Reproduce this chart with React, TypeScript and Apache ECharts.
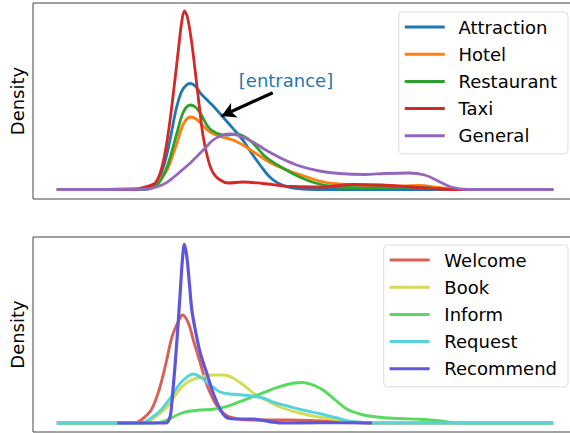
import React, { useEffect, useRef } from "react";
import * as echarts from "echarts";

// ---------- Top panel (domain) ----------
const attractionX = [0, 17.6, 18.6, 20.0, 21.6, 22.8, 24.0, 25.1, 26.1, 26.9, 27.9, 28.9, 30.1, 31.5, 33.1, 34.7, 36.3, 37.9, 39.5, 41.1, 42.7, 44.5, 46.9, 49.5, 55.5, 100];
const attractionY = [0, 0, 1, 5.5, 24.5, 49.5, 79.5, 97.5, 104.5, 106, 103.5, 96.5, 90.5, 83.5, 74.5, 65.5, 56.5, 46.5, 34.5, 23.5, 13.5, 6.5, 2, 0.5, 0, 0];

const hotelX = [0, 16.6, 18.6, 20.2, 22.2, 24.2, 25.5, 26.9, 28.1, 29.5, 30.9, 32.9, 35.5, 38.1, 40.9, 43.5, 46.9, 50.1, 52.9, 55.5, 62.1, 69.5, 73.1, 76.8, 80.4, 100];
const hotelY = [0, 0.5, 3, 7.5, 19.5, 46.5, 65.5, 72.5, 70.5, 63.5, 57.5, 53, 49.5, 42.5, 33.5, 25.5, 18.5, 13, 8.5, 6, 4, 3.5, 4, 2, 0, 0];

const restaurantX = [0, 17.6, 20.2, 22.2, 24.2, 25.5, 26.9, 27.9, 28.9, 30.5, 32.1, 34.1, 36.1, 37.9, 39.5, 42.1, 45.5, 48.9, 52.1, 55.5, 61.5, 69.5, 73.5, 77.4, 81.4, 100];
const restaurantY = [0, 0.5, 4.5, 22.5, 56.5, 77.5, 84.5, 82.5, 76.5, 62.5, 56.5, 54.5, 55.5, 52.5, 46.5, 32.5, 21.5, 12.5, 6.5, 3, 1.5, 2.5, 2, 0.5, 0, 0];

const taxiX = [0, 15.6, 17.6, 19.6, 20.6, 21.6, 22.6, 23.6, 24.6, 25.1, 25.7, 26.3, 27.1, 27.9, 28.7, 29.5, 30.5, 31.5, 32.9, 34.5, 37.5, 41.5, 47.5, 53.5, 59.5, 65.5, 71.5, 80.4, 100];
const taxiY = [0, 0, 2.5, 5.5, 13.5, 31.5, 61.5, 101.5, 144.5, 165.5, 178.5, 172.5, 149.5, 117.5, 83.5, 52.5, 29.5, 16.5, 9.5, 6.5, 7.5, 6, 3, 2.5, 5, 4.5, 2.5, 0, 0];

const generalX = [0, 18.6, 19.6, 21.6, 23.6, 25.5, 26.9, 28.1, 29.5, 31.5, 33.5, 34.9, 36.9, 39.5, 42.1, 45.5, 48.9, 52.9, 56.9, 62.1, 66.1, 70.9, 74.1, 76.8, 79.4, 82.8, 100];
const generalY = [0, 0.5, 2, 5.5, 12.5, 20.5, 26.5, 32.5, 39.5, 49.5, 54.5, 55.5, 53.5, 47.5, 39.5, 30.5, 23.5, 18.5, 16, 15, 16, 16.5, 14.5, 8.5, 2.5, 0, 0];

// ---------- Bottom panel (dialogue act) ----------
const welcomeX = [0, 15.6, 17.0, 19.0, 20.6, 22.0, 23.2, 24.6, 25.3, 26.5, 27.5, 28.9, 30.1, 31.9, 33.5, 35.5, 38.9, 46.1, 56.1, 63.5, 100];
const welcomeY = [0, 0, 3, 13, 33, 60, 86, 103, 108, 100, 83, 60, 40, 20, 10, 5, 3, 3, 1.5, 0, 0];

const bookX = [0, 17.6, 19.0, 22.2, 24.2, 26.1, 28.9, 31.5, 33.5, 35.5, 38.1, 40.1, 42.1, 44.9, 48.9, 52.1, 55.5, 58.9, 62.1, 65.5, 100];
const bookY = [0, 0, 3, 16, 30, 40, 46, 48, 48, 45, 36, 28, 23, 16, 10, 6.5, 4, 1.5, 0.5, 0, 0];

const informX = [0, 19.6, 22.2, 24.2, 26.1, 28.9, 31.5, 34.1, 36.9, 39.5, 42.1, 44.9, 47.5, 49.5, 52.1, 53.9, 56.1, 58.1, 59.5, 61.5, 62.9, 66.1, 72.9, 76.8, 80.8, 85.4, 100];
const informY = [0, 0, 3, 8, 11.3, 13, 13.7, 16.3, 21.3, 26.3, 31.3, 36.3, 39.7, 40.5, 37, 32, 23, 15, 11.5, 8.5, 7, 5.3, 3.7, 2.3, 0.3, 0, 0];

const requestX = [0, 17.0, 19.0, 21.0, 23.0, 24.9, 26.5, 27.5, 28.9, 30.9, 32.9, 35.5, 38.9, 41.5, 44.1, 46.1, 49.5, 52.9, 56.1, 59.5, 62.9, 65.5, 100];
const requestY = [0, 0, 5, 13, 26, 40, 47, 49, 46, 38, 31, 28.7, 27.3, 25, 20, 17.5, 13, 9.5, 5.5, 1.5, 0.3, 0, 0];

const recommendX = [12.2, 22.0, 22.4, 22.9, 23.4, 24.1, 24.8, 25.3, 25.7, 26.2, 26.7, 27.2, 27.9, 28.9, 30.2, 31.5, 33.0, 34.5, 36.5, 39.5, 42.9, 46.1, 52.9, 63.5];
const recommendY = [0, 0, 1.3, 8, 33, 76, 126, 163, 178.7, 166, 140, 113, 93, 70, 50, 30, 13, 4.7, 4, 4, 1.3, 0, 0.3, 0];

const topNames = ["Attraction", "Hotel", "Restaurant", "Taxi", "General"];
const topColors = ["#1f77b4", "#ff7f0e", "#2ca02c", "#d62728", "#9467bd"];
const topXs = [attractionX, hotelX, restaurantX, taxiX, generalX];
const topYs = [attractionY, hotelY, restaurantY, taxiY, generalY];

const bottomNames = ["Welcome", "Book", "Inform", "Request", "Recommend"];
const bottomColors = ["#db5f57", "#d3db57", "#57db5f", "#57d3db", "#5f57db"];
const bottomXs = [welcomeX, bookX, informX, requestX, recommendX];
const bottomYs = [welcomeY, bookY, informY, requestY, recommendY];

const annotationText = "[entrance]";
const arrowFrom = [43.5, 96.8];
const arrowTo = [33.2, 73.5];

const FONT = "DejaVu Sans";

function pairs(xs: number[], ys: number[]) {
  return xs.map((x, i) => [x, ys[i]]);
}

export default function App() {
  const ref = useRef<HTMLDivElement>(null);
  useEffect(() => {
    if (!ref.current) return;
    const chart = echarts.init(ref.current, null, { renderer: "svg" });

    const series: any[] = [];
    topNames.forEach((n, i) => {
      const s: any = {
        name: n,
        type: "line",
        xAxisIndex: 0,
        yAxisIndex: 0,
        data: pairs(topXs[i], topYs[i]),
        showSymbol: false,
        symbol: "none",
        smooth: 0.35,
        lineStyle: { width: 2.8, color: topColors[i] },
        itemStyle: { color: topColors[i] },
        z: 2 + i,
      };
      if (i === 0) {
        s.markLine = {
          silent: true,
          symbol: ["none", "arrow"],
          symbolSize: [12, 14],
          label: { show: false },
          lineStyle: { color: "#000", width: 3.2, type: "solid", curveness: 0 },
          data: [[{ coord: arrowFrom }, { coord: arrowTo }]],
          z: 20,
        };
      }
      series.push(s);
    });
    bottomNames.forEach((n, i) => {
      series.push({
        name: n,
        type: "line",
        xAxisIndex: 1,
        yAxisIndex: 1,
        data: pairs(bottomXs[i], bottomYs[i]),
        showSymbol: false,
        symbol: "none",
        smooth: 0.35,
        lineStyle: { width: i === 4 ? 3.2 : 2.9, color: bottomColors[i] },
        itemStyle: { color: bottomColors[i] },
        z: 2 + i,
      });
    });

    const xAxisBase = {
      type: "value",
      min: -4.8,
      max: 105,
      axisLine: { show: false },
      axisTick: { show: false },
      axisLabel: { show: false },
      splitLine: { show: false },
    };
    const yAxisBase = {
      type: "value",
      name: "Density",
      nameLocation: "middle",
      nameGap: 7,
      nameTextStyle: { fontFamily: FONT, fontSize: 18, color: "#000" },
      axisLine: { show: false },
      axisTick: { show: false },
      axisLabel: { show: false },
      splitLine: { show: false },
    };
    const legendBase = {
      orient: "vertical",
      right: 12,
      icon: "rect",
      itemWidth: 40,
      itemHeight: 3,
      itemGap: 7.2,
      backgroundColor: "rgba(255,255,255,0.85)",
      borderColor: "#dcdcdc",
      borderWidth: 1,
      borderRadius: 4,
      textStyle: { fontFamily: FONT, fontSize: 18, color: "#000", lineHeight: 20 },
      selectedMode: false,
    };

    chart.setOption({
      animation: false,
      backgroundColor: "#fff",
      grid: [
        { left: 28, top: 3, right: 2, height: 196, show: true, borderColor: "#444", borderWidth: 1, backgroundColor: "transparent" },
        { left: 28, top: 237, right: 2, height: 195, show: true, borderColor: "#444", borderWidth: 1, backgroundColor: "transparent" },
      ],
      xAxis: [
        { ...xAxisBase, gridIndex: 0 },
        { ...xAxisBase, gridIndex: 1 },
      ],
      yAxis: [
        { ...yAxisBase, gridIndex: 0, min: -9.5, max: 186.5 },
        { ...yAxisBase, gridIndex: 1, min: -9, max: 186 },
      ],
      legend: [
        {
          ...legendBase,
          top: 12,
          padding: [5, 11, 8, 6],
          data: topNames,
          textStyle: { ...legendBase.textStyle, padding: [0, 0, 0, 8.7] },
        },
        {
          ...legendBase,
          top: 245,
          padding: [5, 11, 8, 6],
          data: bottomNames,
          textStyle: { ...legendBase.textStyle, padding: [0, 0, 0, 9.7] },
        },
      ],
      graphic: [
        {
          type: "text",
          x: 286,
          y: 80,
          z: 30,
          style: {
            text: annotationText,
            fill: "#1f77b4",
            font: `18px "${FONT}"`,
            align: "center",
            verticalAlign: "middle",
          },
        },
      ],
      series,
    });
    return () => chart.dispose();
  }, []);
  return (
    <div style={{ position: "fixed", left: 0, top: 0, width: 570, height: 433, overflow: "hidden", background: "#fff" }}>
      <div ref={ref} style={{ width: 580, height: 433 }} />
    </div>
  );
}
